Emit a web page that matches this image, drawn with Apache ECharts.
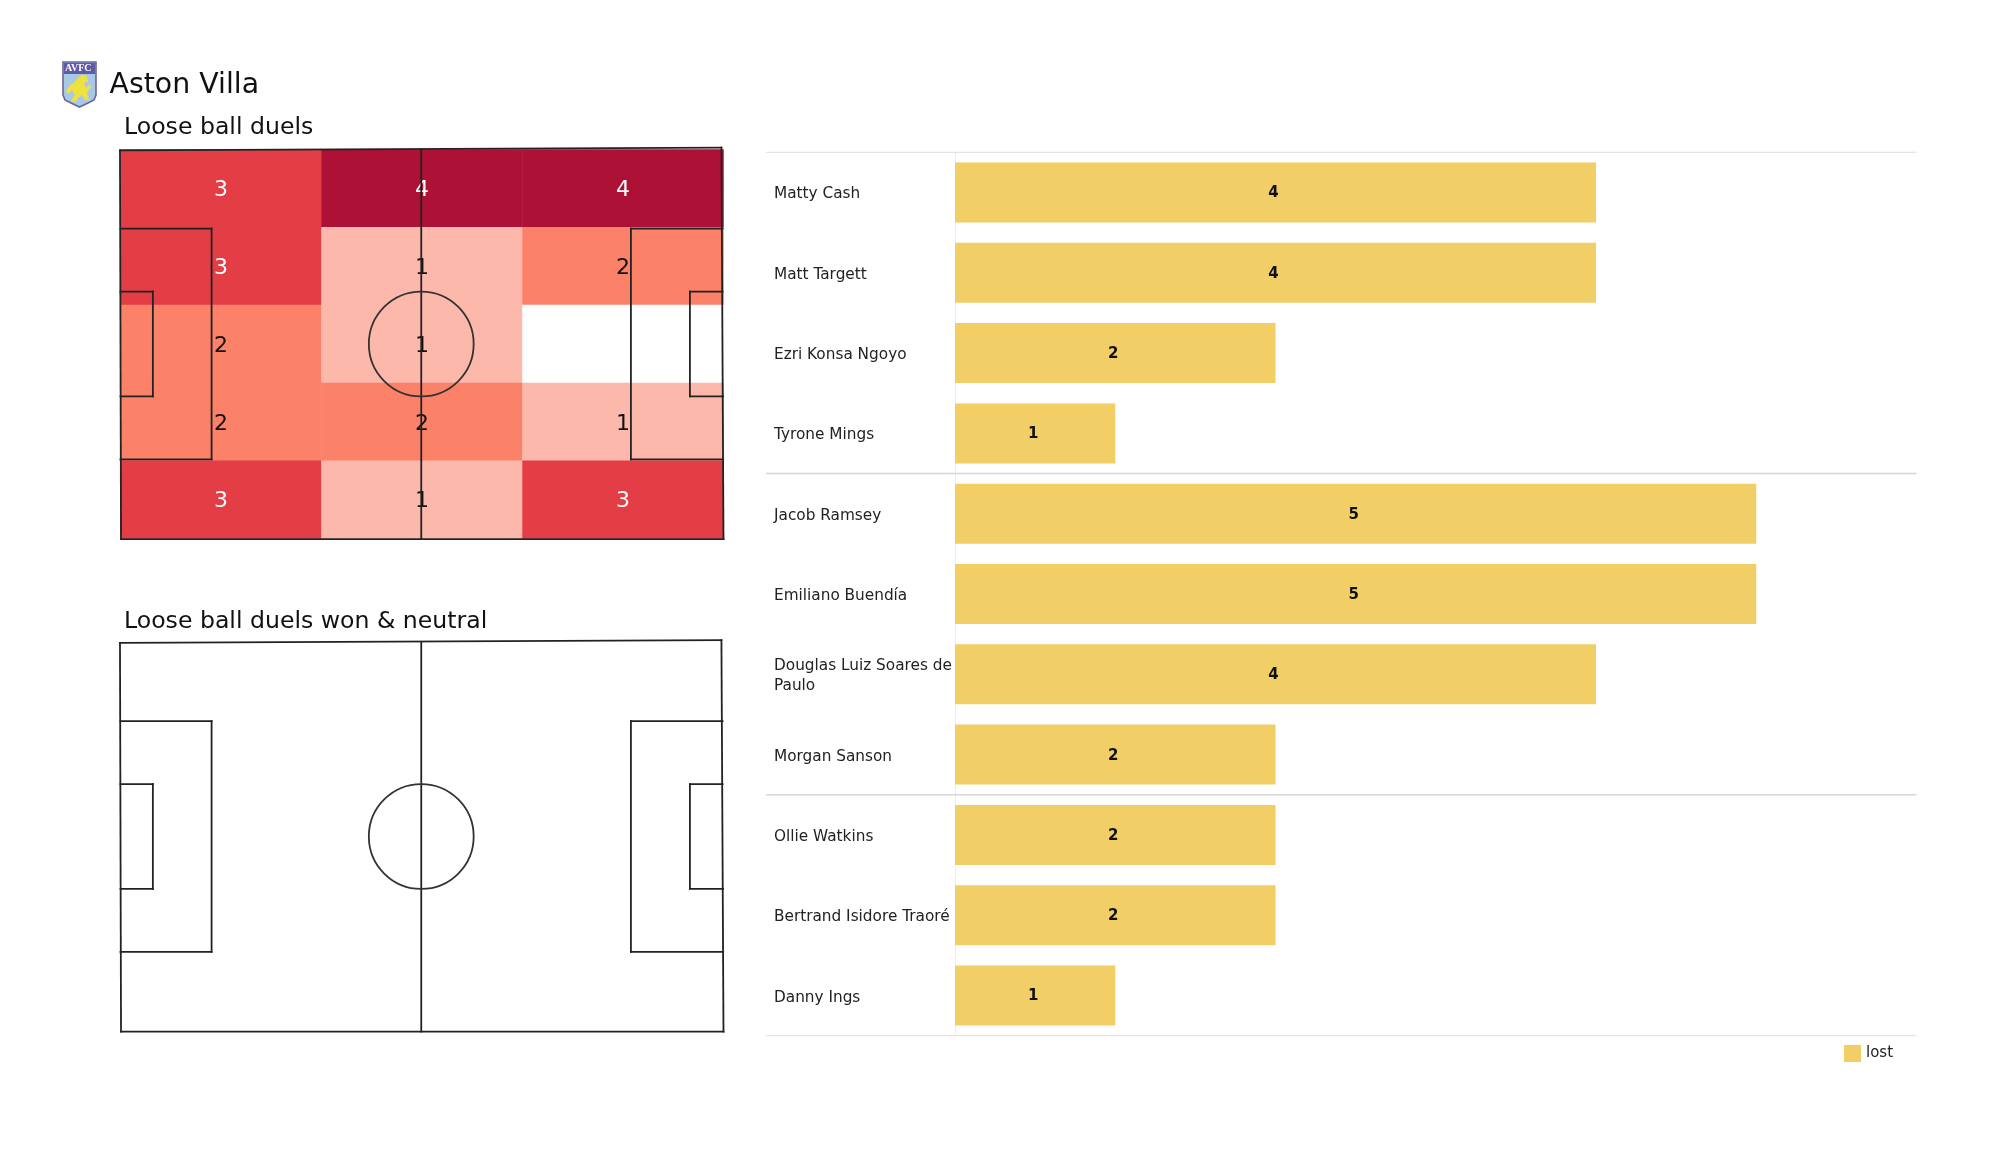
<!DOCTYPE html>
<html><head><meta charset="utf-8">
<style>html,body{margin:0;padding:0;background:#fff}#c{width:2000px;height:1175px}</style>
<script src="https://cdn.jsdelivr.net/npm/echarts@6/dist/echarts.min.js"></script>
</head><body><div id="c"></div>
<script>
const FONT = '"DejaVu Sans"';
const players = ['Matty Cash','Matt Targett','Ezri Konsa Ngoyo','Tyrone Mings','Jacob Ramsey','Emiliano Buendía','Douglas Luiz Soares de Paulo','Morgan Sanson','Ollie Watkins','Bertrand Isidore Traoré','Danny Ings'];
const lost = [4,4,2,1,5,5,4,2,2,2,1];
const innerBreaks = [4,8];
const outerBreaks = [0,11];
const zoneCols = ['L','C','R'];
const zoneRows = ['r1','r2','r3','r4','r5'];
const duelsR1 = [3,4,4];
const duelsR2 = [3,1,2];
const duelsR3 = [2,1,0];
const duelsR4 = [2,2,1];
const duelsR5 = [3,1,3];
const heatColors = ['#ffffff','#fdb8ac','#fb8169','#e33d45','#ad1136'];
// pitch outline in metres (105 x 68), as hand-drawn slightly out of square in the source
const pitchSegments = [
  [-0.09,0.16,105-0.1,-0.31],[105-0.1,-0.31,105.26,68.1],[105.26,68.1,0.09,68.1],[0.09,68.1,-0.09,0.16],[52.5,0,52.5,68.1],
  [0,13.84,15.9,13.84],[15.9,13.84,15.9,54.16],[15.9,54.16,0,54.16],
  [0,24.84,5.65,24.84],[5.65,24.84,5.65,43.16],[5.65,43.16,0,43.16],
  [105.1,13.84,89.1,13.84],[89.1,13.84,89.1,54.16],[89.1,54.16,105.2,54.16],
  [105.1,24.84,99.4,24.84],[99.4,24.84,99.4,43.16],[99.4,43.16,105.2,43.16]
];
const centreCircle = [[52.5,34,9.15]];

const heatData = [];
[duelsR1,duelsR2,duelsR3,duelsR4,duelsR5].forEach((row,r)=>row.forEach((v,c)=>{
  heatData.push({value:[c,r,v],label:{show:v>0,color:v>=3?'#ffffff':'#111111'},itemStyle:{color:heatColors[v]}});
}));

function pitchSeries(xi,yi){
  return [{
    type:'custom',xAxisIndex:xi,yAxisIndex:yi,data:pitchSegments,z:6,clip:false,silent:true,
    encode:{x:[0,2],y:[1,3]},
    renderItem(p,api){
      const a=api.coord([api.value(0),api.value(1)]),b=api.coord([api.value(2),api.value(3)]);
      return {type:'line',shape:{x1:a[0],y1:a[1],x2:b[0],y2:b[1]},style:{stroke:'#222222',lineWidth:1.8,lineCap:'square'}};
    }
  },{
    type:'custom',xAxisIndex:xi,yAxisIndex:yi,data:centreCircle,z:6,clip:false,silent:true,
    encode:{x:0,y:1},
    renderItem(p,api){
      const c=api.coord([api.value(0),api.value(1)]),s=api.size([api.value(2),api.value(2)]);
      return {type:'circle',shape:{cx:c[0],cy:c[1],r:s[0]},style:{fill:'none',stroke:'#333333',lineWidth:1.8}};
    }
  }];
}
const PT=149.5,PH=389,PT2=642,PH2=389,PL=120.5,PW=601.5;
const hide={show:false};
const valAxis=(g,max,inv)=>({type:'value',gridIndex:g,min:0,max:max,inverse:!!inv,show:false});
const sepLine=(breaks,color,w)=>({type:'line',xAxisIndex:4,yAxisIndex:4,silent:true,showSymbol:false,symbol:'none',z:1,
  data:breaks.flatMap(b=>[[0,b],[1,b],[null,null]]),connectNulls:false,lineStyle:{color:color,width:w}});
const option={
  backgroundColor:'#ffffff',
  animation:false,
  title:[
    {text:'Aston Villa',left:104.5,top:67,textStyle:{fontFamily:FONT,fontWeight:'normal',fontSize:28.4,color:'#111'}},
    {text:'Loose ball duels',left:119,top:111,textStyle:{fontFamily:FONT,fontWeight:'normal',fontSize:23.6,color:'#111'}},
    {text:'Loose ball duels won & neutral',left:119,top:605,textStyle:{fontFamily:FONT,fontWeight:'normal',fontSize:23.6,color:'#111'}}
  ],
  legend:{data:['lost'],left:1844,top:1045,icon:'rect',itemWidth:17,itemHeight:17,itemGap:6,padding:0,
    textStyle:{fontFamily:FONT,fontSize:15,color:'#222'}},
  grid:[
    {left:955,top:152.3,width:961.5,height:883.4},
    {left:PL,top:PT,width:603,height:PH},
    {left:PL,top:PT,width:PW,height:PH},
    {left:PL,top:PT2,width:PW,height:PH2},
    {left:766,top:152.3,width:1150.5,height:883.4},
    {left:955,top:154.3,width:961.5,height:883.4}
  ],
  xAxis:[
    valAxis(0,6),
    {type:'category',gridIndex:1,data:zoneCols,show:false},
    valAxis(2,105),
    valAxis(3,105),
    valAxis(4,1),
    valAxis(5,6)
  ],
  yAxis:[
    {type:'category',gridIndex:0,data:players,inverse:true,
      axisTick:hide,splitLine:hide,axisLabel:hide,
      axisLine:{show:true,lineStyle:{color:'#efefef',width:1}}},
    {type:'category',gridIndex:1,data:zoneRows,inverse:true,show:false},
    valAxis(2,68,true),
    valAxis(3,68,true),
    valAxis(4,11,true),
    {type:'category',gridIndex:5,data:players,inverse:true,
      axisTick:hide,splitLine:hide,axisLine:hide,
      axisLabel:{margin:181,align:'left',color:'#222',fontFamily:FONT,fontSize:15.3,lineHeight:20,width:187,overflow:'break',interval:0}}
  ],
  series:[
    {name:'lost',type:'bar',xAxisIndex:0,yAxisIndex:0,data:lost,barWidth:60,
      itemStyle:{color:'#f1ce66'},
      label:{show:true,position:'inside',offset:[-2,1],color:'#111',fontFamily:FONT,fontWeight:'bold',fontSize:15}},
    {type:'heatmap',xAxisIndex:1,yAxisIndex:1,data:heatData,z:2,silent:true,
      label:{show:true,fontFamily:FONT,fontSize:22,offset:[0,2]},emphasis:{disabled:true}},
    ...pitchSeries(2,2),
    ...pitchSeries(3,3),
    sepLine(innerBreaks,'#d6d6d6',1.5),
    sepLine(outerBreaks,'#e4e4e4',1.5)
  ],
  graphic:[
    {type:'polygon',shape:{points:[[63,62],[96,62],[96,95],[94,100],[88,103],[79.5,107],[71,103],[65,100],[63,95]]},
      style:{fill:'#a9c8e6',stroke:'#6a64a6',lineWidth:1.6}},
    {type:'rect',shape:{x:64,y:63,width:31,height:11},style:{fill:'#5f5aa2'}},
    {type:'text',x:65,y:63.5,style:{text:'AVFC',fill:'#ffffff',font:'bold 10px "Liberation Serif"'}},
    {type:'polygon',shape:{points:[[82,75],[87,76],[88,81],[84,83],[86,88],[90,84],[91,87],[87,92],[88,97],[90,100],[85,100],[82,95],[78,98],[76,102],[71,101],[75,95],[72,90],[68,94],[66,91],[70,85],[75,82],[78,78]]},
      style:{fill:'#f0e23c'}}
  ]
};
const chart=echarts.init(document.getElementById('c'),null,{renderer:'canvas',width:2000,height:1175});
chart.setOption(option);
</script></body></html>
